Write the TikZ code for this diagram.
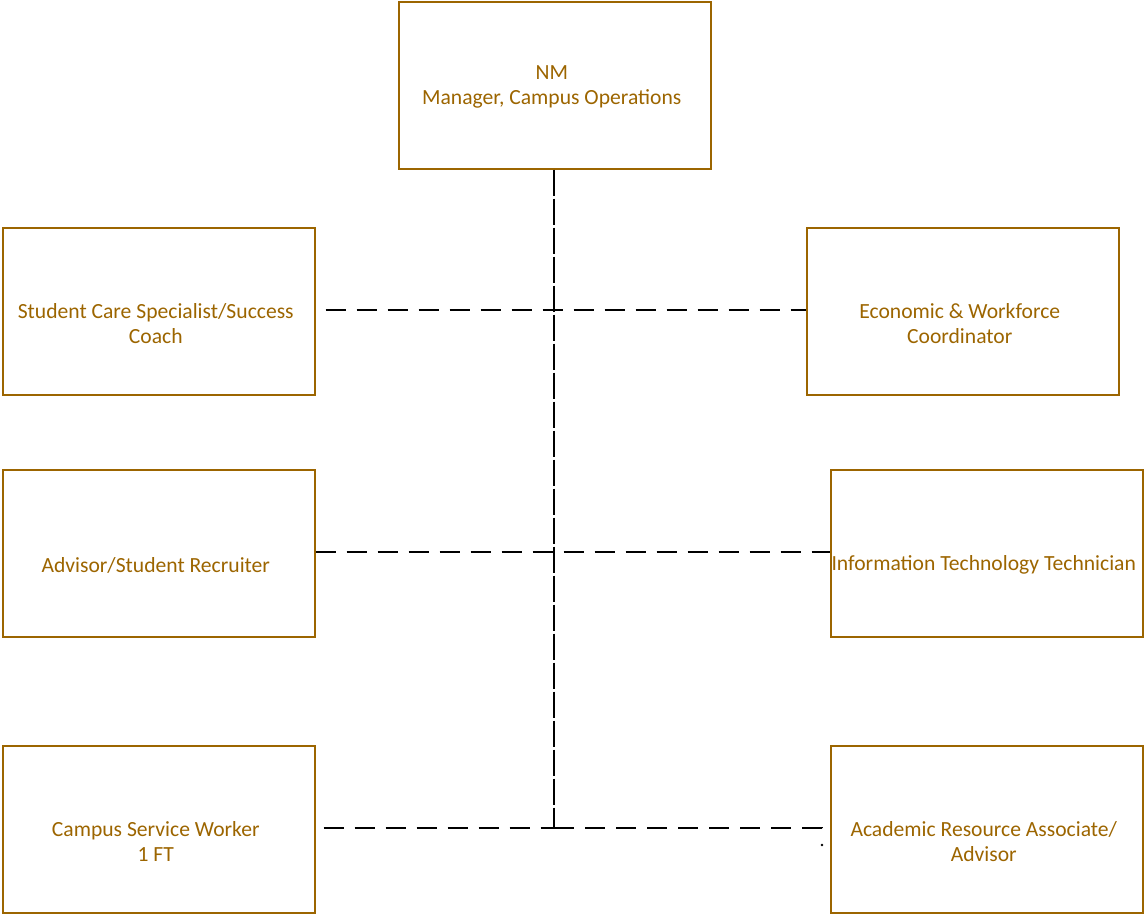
\documentclass[tikz,border=0pt]{standalone}
\usepackage{fontspec}
\setmainfont{Carlito}
\definecolor{boxbrown}{HTML}{9C6500}
\begin{document}
\begin{tikzpicture}[x=1pt,y=-1pt,
  rolebox/.style={draw=boxbrown,line width=1.5pt,minimum width=312pt,minimum height=167pt,
    inner sep=0pt,anchor=north west},
  rolelabel/.style={text=boxbrown,align=center,font=\fontsize{21.6}{25}\selectfont,inner sep=0pt,xshift=-3pt,yshift=-12pt},
  dashline/.style={draw=black,line width=2.4pt,dash pattern=on 20pt off 11pt}]
\useasboundingbox (0,0) rectangle (1145,914);
\node[rolebox,label={[rolelabel,yshift=10pt]center:NM\\Manager, Campus Operations}] (nm) at (398,1) {};
\node[rolebox,label={[rolelabel]center:Student Care Specialist/Success\\Coach}] (sc) at (2,227) {};
\node[rolebox,label={[rolelabel]center:Economic \& Workforce\\Coordinator}] (ec) at (806,227) {};
\node[rolebox,label={[rolelabel]center:Advisor/Student Recruiter}] (ad) at (2,469) {};
\node[rolebox,label={[rolelabel]center:Information Technology Technician}] (it) at (830,469) {};
\node[rolebox,label={[rolelabel]center:Campus Service Worker\\1 FT}] (cs) at (2,745) {};
\node[rolebox,label={[rolelabel]center:Academic Resource Associate/\\Advisor}] (ar) at (830,745) {};
\coordinate (hub) at (554,828);
\coordinate (arend) at (822,828);
\coordinate (artick) at (822,834);
\draw[dashline,line width=2.8pt,dash pattern=on 26pt off 3pt] (nm.south -| hub) -- (hub);
\draw[dashline,dash phase=-10pt] (sc.east |- 0,310) -- (ec.west |- 0,310);
\draw[dashline] (ad.east |- 0,552) -- (it.west |- 0,552);
\draw[dashline,dash phase=-8pt] (cs.east |- hub) -- (hub);
\draw[dashline] (hub) -- (arend) -- (artick);
\fill (arend |- 0,845) circle (1.3pt);
\end{tikzpicture}
\end{document}
